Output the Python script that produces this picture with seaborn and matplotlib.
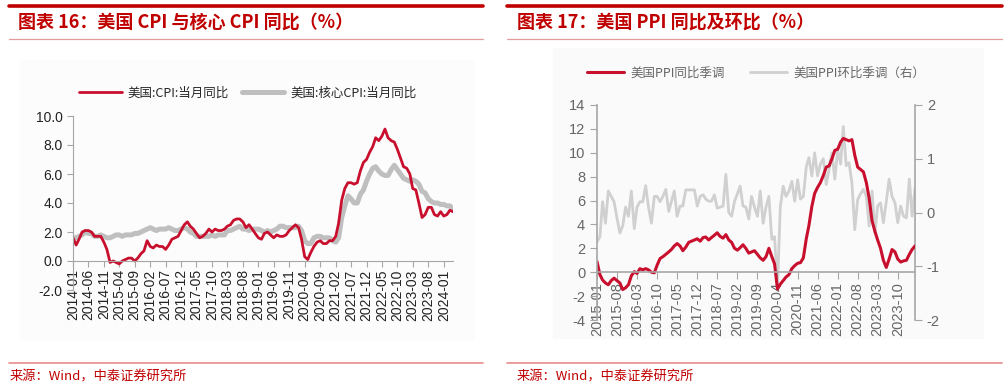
import matplotlib
matplotlib.use('Agg')
import matplotlib.pyplot as plt
import matplotlib.ticker as mticker
from matplotlib.lines import Line2D
from matplotlib.patches import Rectangle
import pandas as pd
import seaborn as sns

sns.set_style('ticks')
plt.rcParams['font.family'] = ['Liberation Sans', 'Noto Sans CJK SC', 'DejaVu Sans']
plt.rcParams['axes.unicode_minus'] = False

# 图表16 数据: 美国CPI / 核心CPI 当月同比 (2014-01 ~ 2024-04)
cpi = [1.6, 1.1, 1.5, 2.0, 2.1, 2.1, 2.0, 1.7, 1.7, 1.7, 1.3, 0.8,
       -0.1, 0.0, -0.1, -0.2, 0.0, 0.1, 0.2, 0.2, 0.0, 0.2, 0.5, 0.7,
       1.4, 1.0, 0.9, 1.1, 1.0, 1.0, 0.8, 1.1, 1.5, 1.6, 1.7, 2.1,
       2.5, 2.7, 2.4, 2.2, 1.9, 1.6, 1.7, 1.9, 2.2, 2.0, 2.2, 2.1,
       2.1, 2.2, 2.4, 2.5, 2.8, 2.9, 2.9, 2.7, 2.3, 2.5, 2.2, 1.9,
       1.6, 1.5, 1.9, 2.0, 1.8, 1.6, 1.8, 1.7, 1.7, 1.8, 2.1, 2.3,
       2.5, 2.3, 1.5, 0.3, 0.1, 0.6, 1.0, 1.3, 1.4, 1.2, 1.2, 1.4,
       1.4, 1.7, 2.6, 4.2, 5.0, 5.4, 5.4, 5.3, 5.4, 6.2, 6.8, 7.0,
       7.5, 7.9, 8.5, 8.3, 8.6, 9.1, 8.5, 8.3, 8.2, 7.7, 7.1, 6.5,
       6.4, 6.0, 5.0, 4.9, 4.0, 3.0, 3.2, 3.7, 3.7, 3.2, 3.1, 3.4,
       3.1, 3.2, 3.5, 3.4]
core_cpi = [1.6, 1.6, 1.7, 1.8, 2.0, 1.9, 1.9, 1.7, 1.7, 1.8, 1.7, 1.6,
            1.6, 1.7, 1.8, 1.8, 1.7, 1.8, 1.8, 1.8, 1.9, 1.9, 2.0, 2.1,
            2.2, 2.3, 2.2, 2.1, 2.2, 2.2, 2.2, 2.3, 2.2, 2.1, 2.1, 2.2,
            2.3, 2.2, 2.0, 1.9, 1.7, 1.7, 1.7, 1.7, 1.7, 1.8, 1.7, 1.8,
            1.8, 1.8, 2.1, 2.1, 2.2, 2.3, 2.4, 2.2, 2.2, 2.1, 2.2, 2.2,
            2.2, 2.1, 2.0, 2.1, 2.0, 2.1, 2.2, 2.4, 2.4, 2.3, 2.3, 2.3,
            2.3, 2.4, 2.1, 1.4, 1.2, 1.2, 1.6, 1.7, 1.7, 1.6, 1.6, 1.6,
            1.4, 1.3, 1.6, 3.0, 3.8, 4.5, 4.3, 4.0, 4.0, 4.6, 4.9, 5.5,
            6.0, 6.4, 6.5, 6.2, 6.0, 5.9, 5.9, 6.3, 6.6, 6.3, 6.0, 5.7,
            5.6, 5.5, 5.6, 5.5, 5.3, 4.8, 4.7, 4.3, 4.1, 4.0, 4.0, 3.9,
            3.9, 3.8, 3.8, 3.6]

# 图表17 数据: 美国PPI 同比季调 / 环比季调 (2015-01 ~ 2024-04)
ppi_yoy = [0.9, -0.2, -0.65, -0.9, -1.05, -0.7, -0.5, -0.7, -0.9, -1.45, -1.3, -1.05,
           -0.3, 0.05, -0.1, 0.3, 0.2, 0.3, 0.2, 0.0, -0.05, 0.6, 1.15, 1.3,
           1.5, 1.7, 1.9, 2.2, 2.4, 2.2, 1.8, 2.1, 2.5, 2.6, 2.7, 2.8,
           2.6, 2.9, 2.95, 2.7, 2.9, 3.1, 3.3, 3.0, 2.85, 3.15, 2.7, 2.5,
           2.0, 1.85, 2.05, 2.3, 2.0, 1.6, 1.7, 1.8, 1.5, 1.2, 1.0, 1.3,
           2.0, 1.3, 0.7, -1.4, -1.0, -0.7, -0.4, -0.2, 0.3, 0.55, 0.75, 0.8,
           1.2, 2.8, 3.9, 5.5, 6.6, 7.1, 7.5, 8.1, 8.8, 8.9, 9.5, 10.2,
           10.3, 10.9, 11.2, 11.1, 11.0, 11.1, 9.8, 8.8, 8.6, 8.4, 7.5, 6.2,
           4.3, 3.4, 2.7, 2.0, 1.0, 0.4, 1.1, 1.9, 1.7, 1.1, 0.85, 0.95,
           1.0, 1.5, 1.9, 2.2]
ppi_mom = [-0.55, -0.45, 0.2, -0.2, 0.4, 0.3, 0.2, -0.1, -0.38, -0.25, 0.1, -0.07,
           0.4, -0.3, 0.1, 0.2, 0.2, 0.5, 0.1, -0.2, 0.3, 0.3, 0.2, 0.3,
           0.43, 0.02, 0.2, 0.4, -0.07, 0.12, 0.12, 0.42, 0.42, 0.42, 0.42, 0.12,
           0.3, 0.33, 0.25, 0.21, 0.21, 0.33, 0.08, 0.1, 0.12, 0.71, 0.0, -0.07,
           0.21, 0.35, 0.49, 0.12, 0.1, -0.12, 0.3, 0.1, -0.07, 0.4, -0.2, 0.1,
           0.3, -0.5, -0.45, -1.4, 0.1, 0.49, 0.3, 0.4, 0.58, 0.21, 0.61, 0.25,
           0.3, 0.85, 1.02, 0.68, 1.11, 0.68, 0.9, 1.0, 0.52, 0.8, 1.11, 0.62,
           1.17, 0.9, 1.6, 0.87, 0.93, 0.55, -0.32, 0.24, 0.35, 0.43, 0.3, -0.25,
           0.4, -0.38, 0.12, 0.18, -0.19, 0.2, 0.62, 0.3, 0.18, -0.19, 0.12, -0.07,
           -0.1, 0.62, -0.07, 0.45]

cpi_dates = pd.date_range('2014-01-01', periods=len(cpi), freq='MS')
ppi_dates = pd.date_range('2015-01-01', periods=len(ppi_yoy), freq='MS')
df_cpi = pd.DataFrame({'date': cpi_dates, 'cpi': cpi, 'core': core_cpi})
df_ppi = pd.DataFrame({'date': ppi_dates, 'yoy': ppi_yoy, 'mom': ppi_mom})

RED = '#C8102E'
TITLE_RED = '#C00000'
CJK = ['Noto Sans CJK SC', 'DejaVu Sans']

fig = plt.figure(figsize=(10.08, 3.88), dpi=100)

# 面板背景 / 标题栏 / 底部来源
W, H = 1008, 388
def fx(px): return px / W
def fy(py): return 1 - py / H

fig.patches.append(Rectangle((fx(20), fy(340)), fx(453), 280 / H, transform=fig.transFigure,
                             color='#FCFCFC', zorder=-10))
fig.patches.append(Rectangle((fx(553), fy(338)), fx(430), 290 / H, transform=fig.transFigure,
                             color='#FAFAFA', zorder=-10))
for x0, x1 in [(9, 483), (507, 1002)]:
    fig.add_artist(Line2D([fx(x0), fx(x1)], [fy(5.5), fy(5.5)], color=TITLE_RED, lw=2.6))
    fig.add_artist(Line2D([fx(x0), fx(x1)], [fy(39), fy(39)], color='#E39A9A', lw=0.9))
    fig.add_artist(Line2D([fx(x0), fx(x1)], [fy(363), fy(363)], color='#E88C8C', lw=1.2))
fig.text(fx(18), fy(22), '图表 16：美国 CPI 与核心 CPI 同比（%）', color=TITLE_RED,
         fontsize=13, fontweight='bold', va='center', ha='left', family=CJK)
fig.text(fx(517), fy(22), '图表 17：美国 PPI 同比及环比（%）', color=TITLE_RED,
         fontsize=13, fontweight='bold', va='center', ha='left', family=CJK)
fig.text(fx(10), fy(377), '来源：Wind，中泰证券研究所', color=TITLE_RED, fontsize=9.5,
         va='center', ha='left', family=CJK)
fig.text(fx(517), fy(377), '来源：Wind，中泰证券研究所', color=TITLE_RED, fontsize=9.5,
         va='center', ha='left', family=CJK)

# 左图: CPI
ax1 = fig.add_axes([fx(73), fy(290), fx(380), 174 / H])
ax1.patch.set_visible(False)
sns.lineplot(data=df_cpi, x='date', y='core', ax=ax1, color='#BFBFBF', lw=3.6)
sns.lineplot(data=df_cpi, x='date', y='cpi', ax=ax1, color=RED, lw=2.0)
ax1.set_xlim(cpi_dates[0], cpi_dates[-1])
ax1.set_ylim(-2, 10)
ax1.set_yticks(range(-2, 11, 2))
ax1.yaxis.set_major_formatter(mticker.FormatStrFormatter('%.1f'))
ax1.set_xticks(cpi_dates[::5])
ax1.set_xticklabels([d.strftime('%Y-%m') for d in cpi_dates[::5]])
ax1.spines['bottom'].set_position(('data', 0))
ax1.spines[['top', 'right']].set_visible(False)
for s in ['left', 'bottom']:
    ax1.spines[s].set_color('#A6A6A6')
ax1.tick_params(axis='both', colors='#A6A6A6', labelcolor='#222222', labelsize=10, length=4)
ax1.tick_params(axis='x', pad=2, labelrotation=90)
ax1.set_xlabel('')
ax1.set_ylabel('')
ax1.legend(handles=[Line2D([], [], color=RED, lw=2.0), Line2D([], [], color='#BFBFBF', lw=3.6)],
           labels=['美国:CPI:当月同比', '美国:核心CPI:当月同比'], ncol=2, frameon=False,
           loc='center', bbox_to_anchor=(0.46, (290 - 93) / 174), prop={'family': CJK, 'size': 9},
           handlelength=3.4, columnspacing=1.0, handletextpad=0.5)

# 右图: PPI
ax2 = fig.add_axes([fx(597), fy(320), fx(318), 215 / H])
ax3 = ax2.twinx()
sns.lineplot(data=df_ppi, x='date', y='mom', ax=ax3, color='#D0D0D0', lw=2.0)
sns.lineplot(data=df_ppi, x='date', y='yoy', ax=ax2, color=RED, lw=2.2)
ax2.set_zorder(ax3.get_zorder() + 1)
ax2.patch.set_visible(False)
ax2.set_xlim(ppi_dates[0], ppi_dates[-1])
ax2.set_ylim(-4, 14)
ax2.set_yticks(range(-4, 15, 2))
ax3.set_ylim(-2, 2)
ax3.set_yticks([-2, -1, 0, 1, 2])
ax2.set_xticks(ppi_dates[::7])
ax2.set_xticklabels([d.strftime('%Y-%m') for d in ppi_dates[::7]])
ax2.spines['bottom'].set_position(('data', 0))
ax2.spines[['top', 'right']].set_visible(False)
ax3.spines[['top', 'left', 'bottom']].set_visible(False)
for a, s in [(ax2, 'left'), (ax2, 'bottom'), (ax3, 'right')]:
    a.spines[s].set_color('#A6A6A6')
    a.spines[s].set_linewidth(1.2)
for a in (ax2, ax3):
    a.tick_params(axis='both', colors='#A6A6A6', labelcolor='#666666', labelsize=10.5, length=5)
    a.set_xlabel('')
    a.set_ylabel('')
ax2.tick_params(axis='x', pad=2, labelrotation=90)
ax2.legend(handles=[Line2D([], [], color=RED, lw=2.2), Line2D([], [], color='#D0D0D0', lw=2.0)],
           labels=['美国PPI同比季调', '美国PPI环比季调（右）'], ncol=2, frameon=False,
           loc='center', bbox_to_anchor=(0.5, (320 - 73) / 215), prop={'family': CJK, 'size': 9},
           handlelength=3.0, columnspacing=2.0, handletextpad=0.5, labelcolor='#666666')

fig.savefig('out.png', dpi=100)
